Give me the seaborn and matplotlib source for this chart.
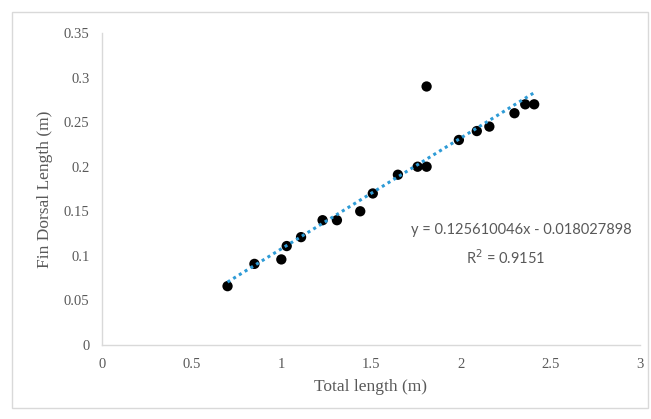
import numpy as np
import pandas as pd
import matplotlib
matplotlib.use("Agg")
import matplotlib.pyplot as plt
import seaborn as sns
from matplotlib.patches import Rectangle

total_length = [0.70, 0.85, 1.00, 1.03, 1.11, 1.23, 1.31, 1.44, 1.51, 1.65,
                1.76, 1.81, 1.81, 1.99, 2.09, 2.16, 2.30, 2.36, 2.41]
fin_dorsal = [0.066, 0.091, 0.096, 0.111, 0.121, 0.140, 0.140, 0.150, 0.170, 0.191,
              0.200, 0.200, 0.290, 0.230, 0.240, 0.245, 0.260, 0.270, 0.270]
x_ticks = [0, 0.5, 1, 1.5, 2, 2.5, 3]
x_tick_labels = ["0", "0.5", "1", "1.5", "2", "2.5", "3"]
y_ticks = [0, 0.05, 0.1, 0.15, 0.2, 0.25, 0.3, 0.35]
y_tick_labels = ["0", "0.05", "0.1", "0.15", "0.2", "0.25", "0.3", "0.35"]
equation_text = "y = 0.125610046x - 0.018027898"
r2_text = "R$^2$ = 0.9151"

df = pd.DataFrame({"Total length (m)": total_length, "Fin Dorsal Length (m)": fin_dorsal})

sns.set_style("white")
fig = plt.figure(figsize=(6.51, 4.19), dpi=100)
ax = fig.add_axes([102/651, 1 - 345/419, 538/651, 312/419])

sns.regplot(data=df, x="Total length (m)", y="Fin Dorsal Length (m)", ax=ax, ci=None,
            scatter_kws=dict(s=55, color="black", edgecolor="none", alpha=1, zorder=2),
            line_kws=dict(color="#2E9BD6", lw=2.2, ls=(0, (1, 1.2)), zorder=3))

ax.set_xlim(0, 3)
ax.set_ylim(0, 0.35)
ax.set_xticks(x_ticks)
ax.set_xticklabels(x_tick_labels)
ax.set_yticks(y_ticks)
ax.set_yticklabels(y_tick_labels)
serif = "Liberation Serif"
for lab in ax.get_xticklabels() + ax.get_yticklabels():
    lab.set_fontfamily(serif)
    lab.set_fontsize(10.5)
    lab.set_color("#595959")
ax.tick_params(axis="both", length=0, pad=9)
ax.set_xlabel("Total length (m)", fontfamily=serif, fontsize=12.5, color="#595959", labelpad=6)
ax.set_ylabel("Fin Dorsal Length (m)", fontfamily=serif, fontsize=12.5, color="#595959", labelpad=8)

for side in ["top", "right"]:
    ax.spines[side].set_visible(False)
for side in ["left", "bottom"]:
    ax.spines[side].set_color("#d9d9d9")
    ax.spines[side].set_linewidth(1)

ax.text(521/651, 1 - 230/419, equation_text, transform=fig.transFigure, ha="center", va="center",
        fontfamily="Lato", fontsize=10.5, color="#595959")
ax.text(506/651, 1 - 258/419, r2_text, transform=fig.transFigure, ha="center", va="center",
        fontfamily="Lato", fontsize=10.5, color="#595959")

fig.patches.append(Rectangle((12/651, 1 - 408/419), 636/651, 396/419, transform=fig.transFigure,
                             fill=False, edgecolor="#d9d9d9", lw=1))

fig.savefig("out.png", dpi=100)
